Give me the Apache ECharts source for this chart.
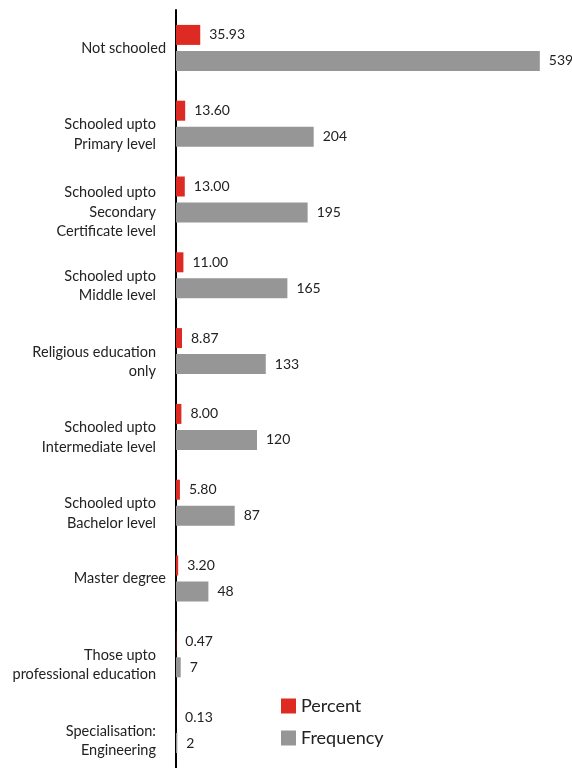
<!DOCTYPE html>
<html>
<head>
<meta charset="utf-8">
<script src="https://cdn.jsdelivr.net/npm/echarts@6/dist/echarts.min.js"></script>
<style>
  html, body { margin: 0; padding: 0; background: #ffffff; }
  #chart { width: 572px; height: 768px; }
</style>
</head>
<body>
<div id="chart"></div>
<script>
// Education level categories, top to bottom
const categories = [
  'Not schooled',
  'Schooled upto\nPrimary level',
  'Schooled upto\nSecondary\nCertificate level',
  'Schooled upto\nMiddle level',
  'Religious education\nonly',
  'Schooled upto\nIntermediate level',
  'Schooled upto\nBachelor level',
  'Master degree',
  'Those upto\nprofessional education',
  'Specialisation:\nEngineering'
];
const percentValues = [35.93, 13.60, 13.00, 11.00, 8.87, 8.00, 5.80, 3.20, 0.47, 0.13];
const frequencyValues = [539, 204, 195, 165, 133, 120, 87, 48, 7, 2];

const FONT = 'Lato, "Noto Sans", sans-serif';
const chart = echarts.init(document.getElementById('chart'), null, { renderer: 'canvas' });

chart.setOption({
  animation: false,
  backgroundColor: '#ffffff',
  textStyle: { fontFamily: FONT },
  legend: {
    orient: 'vertical',
    left: 276,
    top: 692,
    itemWidth: 15,
    itemHeight: 15,
    itemGap: 14,
    icon: 'rect',
    textStyle: { fontSize: 18, color: '#222222', fontFamily: FONT },
    data: ['Percent', 'Frequency']
  },
  grid: { left: 176, top: 10, width: 378, height: 760, containLabel: false },
  xAxis: {
    type: 'value',
    min: 0,
    max: 560,
    show: false
  },
  yAxis: {
    type: 'category',
    inverse: true,
    data: categories,
    axisLine: { show: true, lineStyle: { color: '#000000', width: 2 } },
    axisTick: { show: false },
    axisLabel: {
      margin: 10,
      color: '#222222',
      fontSize: 14.5,
      fontFamily: FONT,
      // wrapped labels sit a little lower and further from the axis
      formatter: function (v) {
        const lines = v.split('\n');
        if (lines.length === 1) return '{s|' + v + '}';
        const gap = lines.length > 2 ? 'h' : 'g';
        return '{' + gap + '| }\n' + lines.map(function (l) { return '{w|' + l + '}'; }).join('\n');
      },
      rich: {
        s: { fontSize: 14.5, fontFamily: FONT, color: '#222222' },
        g: { fontSize: 4, lineHeight: 21 },
        h: { fontSize: 4, lineHeight: 25 },
        w: { fontSize: 14.5, fontFamily: FONT, color: '#222222', lineHeight: 19.5, padding: [0, 10, 0, 0] }
      }
    }
  },
  series: [
    {
      name: 'Percent',
      type: 'bar',
      data: percentValues,
      barWidth: 20,
      barGap: '30%',
      itemStyle: { color: '#dd2a22' },
      label: {
        show: true,
        position: 'right',
        distance: 9,
        fontSize: 14,
        color: '#222222',
        fontFamily: FONT,
        formatter: function (p) { return p.value.toFixed(2); }
      }
    },
    {
      name: 'Frequency',
      type: 'bar',
      data: frequencyValues,
      barWidth: 20,
      itemStyle: { color: '#969696' },
      label: {
        show: true,
        position: 'right',
        distance: 9,
        fontSize: 14,
        color: '#222222',
        fontFamily: FONT
      }
    }
  ]
});
</script>
</body>
</html>
